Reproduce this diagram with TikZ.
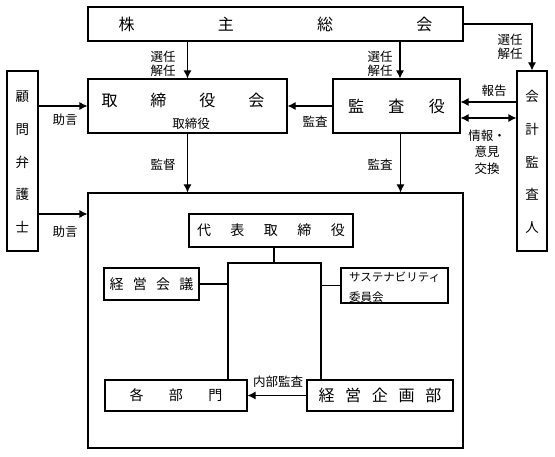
\documentclass[tikz,border=0pt]{standalone}
\usepackage{fontspec}
\setmainfont{Noto Sans CJK JP}
\usetikzlibrary{arrows.meta}
\newcommand\spr[2]{\makebox[#1]{#2}}
\begin{document}
\begin{tikzpicture}[x=1pt,y=-1pt,
  box/.style={draw,line width=1.1pt,inner sep=0pt},
  arr/.style={line width=1.1pt,-{Latex[length=8pt,width=8pt]}},
  darr/.style={line width=1.1pt,{Latex[length=8pt,width=8pt]}-{Latex[length=8pt,width=8pt]}},
  ln/.style={line width=1.1pt},
  sm/.style={font=\fontsize{12.5}{14}\selectfont,inner sep=0pt},
  big/.style={font=\fontsize{16}{18}\selectfont},
  mid/.style={font=\fontsize{14}{16}\selectfont},
  vt/.style={font=\fontsize{13.5}{32.7}\selectfont,align=center,inner sep=0pt}]
\path[use as bounding box] (0,0) rectangle (555,457);
% boxes
\node[box,big,minimum width=375pt,minimum height=34pt] (sh) at (275.5,24) {\spr{314pt}{株\hfill 主\hfill 総\hfill 会}};
\node[box,minimum width=199pt,minimum height=54pt] (board) at (187.5,106) {};
\node[big,inner sep=0pt] (boardT) at (183,100) {\spr{163pt}{取\hfill 締\hfill 役\hfill 会}};
\node[sm] (boardS) at (191,124) {取締役};
\node[box,big,minimum width=127pt,minimum height=54pt] (kansa) at (396.5,106) {\spr{97pt}{監\hfill 査\hfill 役}};
\node[box,minimum width=31pt,minimum height=180pt] (adv) at (22.5,161) {};
\node[vt] (advT) at (22.5,162) {顧\\問\\弁\\護\\士};
\node[box,minimum width=30pt,minimum height=180pt] (audit) at (532,161) {};
\node[vt] (auditT) at (532,162) {会\\計\\監\\査\\人};
\node[box,minimum width=375pt,minimum height=255pt] (big) at (275.5,320.5) {};
% inner boxes
\node[box,mid,minimum width=164pt,minimum height=33pt] (dai) at (271,230.5) {\spr{148pt}{代\hfill 表\hfill 取\hfill 締\hfill 役}};
\node[box,mid,minimum width=95pt,minimum height=32pt] (keiei) at (151.5,284) {\spr{84pt}{経\hfill 営\hfill 会\hfill 議}};
\node[box,minimum width=107pt,minimum height=35pt] (sus) at (394.5,285.5) {};
\node[sm,font=\fontsize{11.5}{20}\selectfont,align=left,anchor=west] (susT) at (349,287) {サステナビリティ\\委員会};
\node[box,mid,minimum width=142pt,minimum height=31pt] (kaku) at (176,395.5) {\spr{93pt}{各\hfill 部\hfill 門}};
\node[box,big,minimum width=146pt,minimum height=31pt] (kikaku) at (380,395.5) {\spr{123pt}{経\hfill 営\hfill 企\hfill 画\hfill 部}};
% coordinates
\coordinate (kx) at ([xshift=3.5pt]kansa.north);
\coordinate (kxs) at ([xshift=4pt]kansa.south);
\coordinate (r1) at ([yshift=4pt]kansa.east);
\coordinate (r2) at ([yshift=-12pt]kansa.east);
\coordinate (a2) at (adv.east |- 0,214);
\coordinate (jL) at (228,263);
\coordinate (jR) at (321,263);
\coordinate (dj) at ([xshift=3pt]dai.south);
% connectors
\draw[arr] (sh.south -| board.north) -- (board.north);
\draw[arr] (kx |- sh.south) -- (kx);
\draw[arr] (sh.east) -| (audit.north);
\draw[arr] (kansa.west) -- (board.east);
\draw[arr] (audit.west |- r1) -- (r1);
\draw[darr] (r2) -- (audit.west |- r2);
\draw[arr] (adv.east |- board.west) -- (board.west);
\draw[arr] (a2) -- (big.west |- a2);
\draw[arr] (board.south) -- (big.north -| board.south);
\draw[arr] (kxs) -- (big.north -| kxs);
\draw[ln] (dj) -- (dj |- jL);
\draw[ln] (kaku.north -| jL) -- (jL) -- (jR) -- (kikaku.north -| jR);
\draw[ln] (keiei.east) -- (keiei.east -| jL);
\draw[ln] (sus.west) -- (sus.west -| jR);
\draw[arr] (kikaku.west) -- (kaku.east);
% labels
\node[sm,align=center] (l1) at (163,64) {選任\\解任};
\node[sm,align=center] (l2) at (380,64) {選任\\解任};
\node[sm,align=center] (l3) at (510,47) {選任\\解任};
\node[sm] (l4) at (494,91) {報告};
\node[sm,align=center,font=\fontsize{12.5}{16.5}\selectfont] (l5) at (487,152) {情報・\\意見\\交換};
\node[sm] (l6) at (315,122) {監査};
\node[sm] (l7) at (65,120) {助言};
\node[sm] (l8) at (65,232) {助言};
\node[sm] (l9) at (163,165) {監督};
\node[sm] (l10) at (380,165) {監査};
\node[sm] (l11) at (278,382) {内部監査};
\end{tikzpicture}
\end{document}
